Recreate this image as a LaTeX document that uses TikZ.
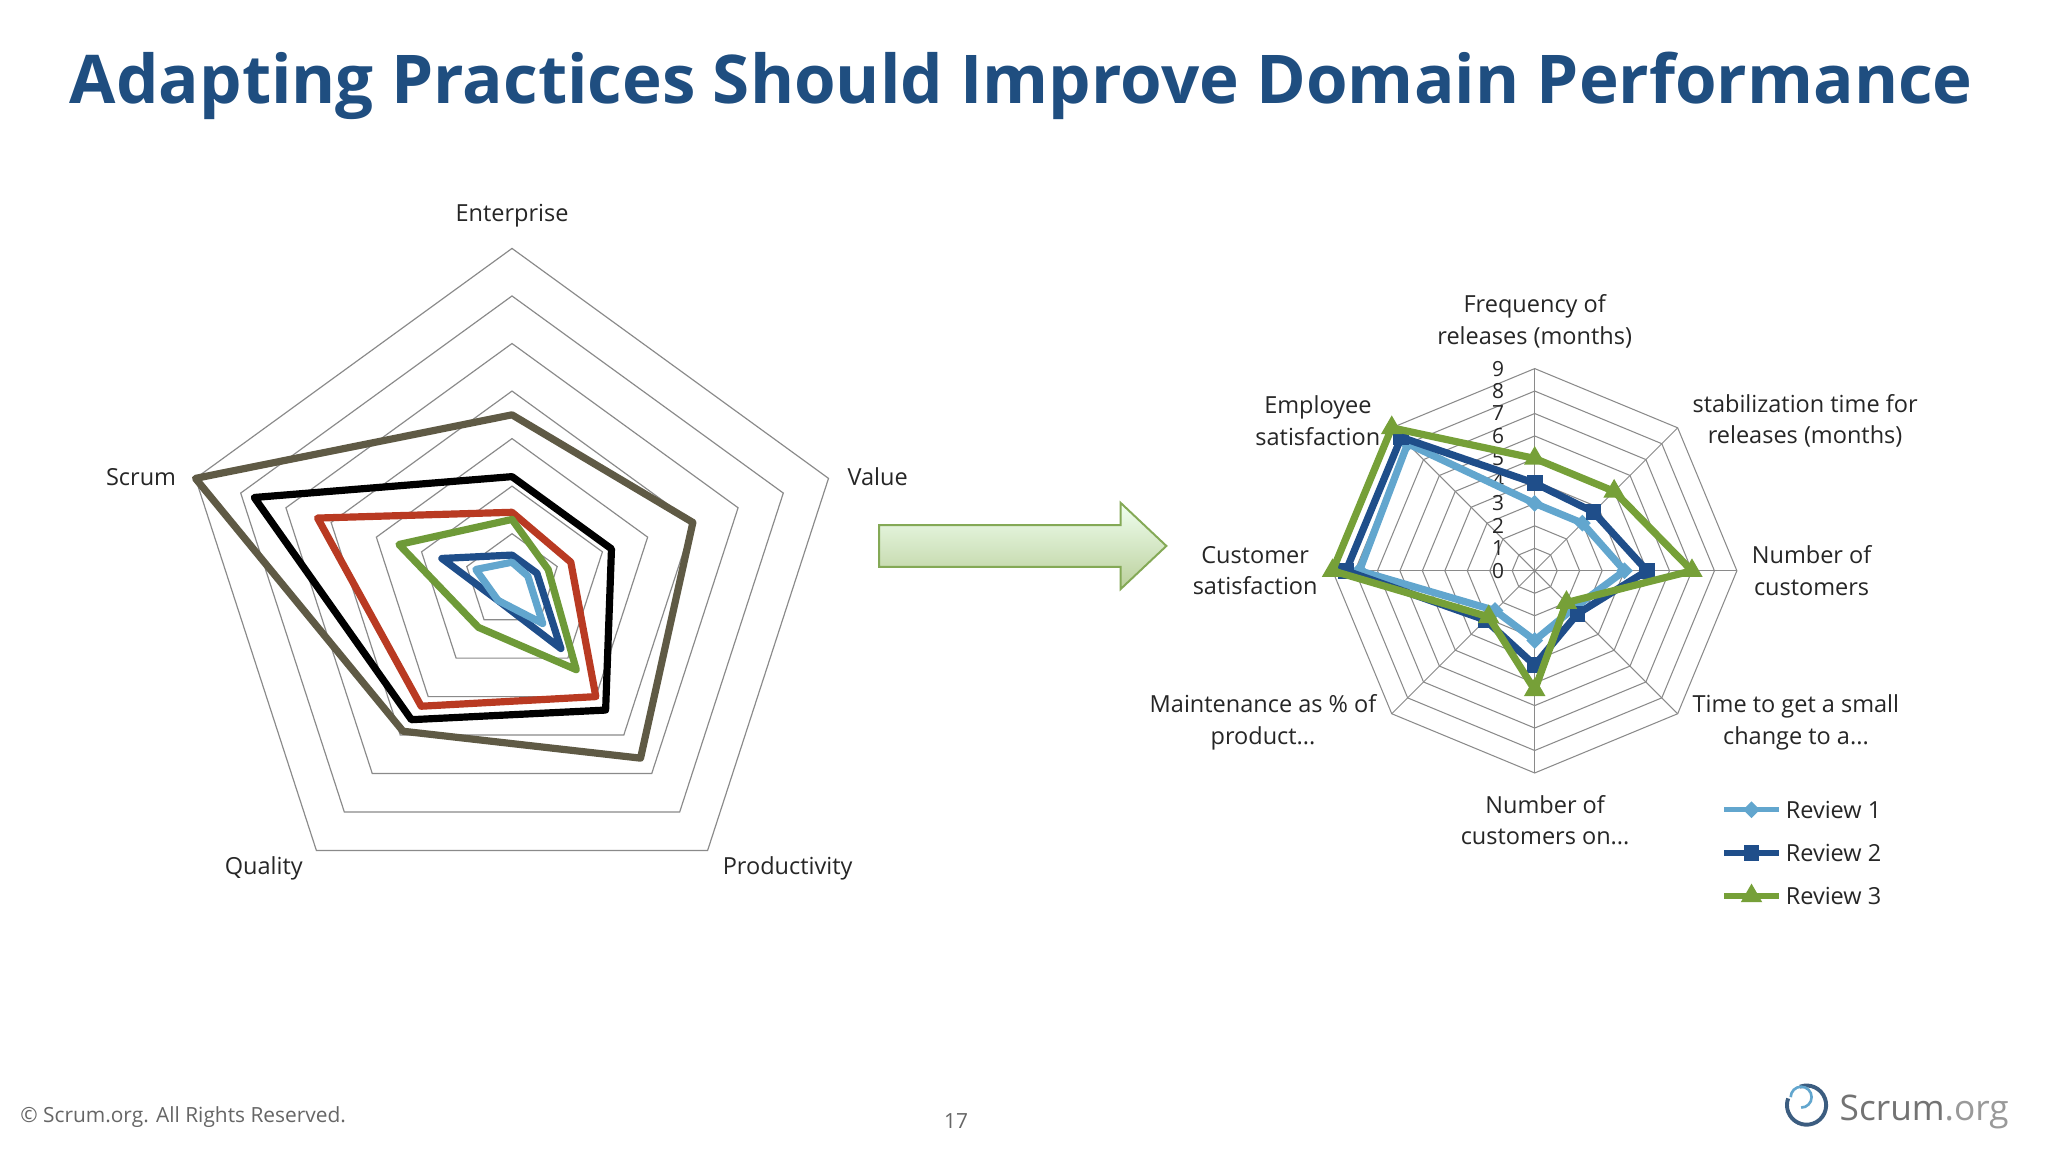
\documentclass[tikz,border=0pt]{standalone}
\usepackage{fontspec}
\setmainfont{Open Sans}
\usetikzlibrary{shapes.geometric}
\definecolor{ttl}{HTML}{1F4E80}
\definecolor{olv}{HTML}{5F5A45}
\definecolor{rd}{HTML}{B93A22}
\definecolor{gr}{HTML}{6E9A38}
\definecolor{db}{HTML}{1F4E8A}
\definecolor{lb}{HTML}{62A6CE}
\definecolor{rgr}{HTML}{76A038}
\definecolor{gridc}{HTML}{8A8A8A}
\newcommand\LP[2]{({392+36.4*#2*cos(90-72*#1)},{445-36.4*#2*sin(90-72*#1)})}
\newcommand\RP[2]{({1175+17.2*#2*cos(90-45*#1)},{437-17.2*#2*sin(90-45*#1)})}
\tikzset{
 lbl/.style={font=\fontsize{18}{24}\selectfont,align=center,text=black!85},
 ser/.style={line width=5.5pt,line join=round},
 mkd/.style={diamond,fill=#1,inner sep=0pt,minimum size=13pt},
 mks/.style={rectangle,fill=#1,inner sep=0pt,minimum size=12pt},
 mkt/.style={regular polygon,regular polygon sides=3,fill=#1,inner sep=0pt,minimum size=19pt},
}
\begin{document}
\begin{tikzpicture}[x=1pt,y=-1pt]
\useasboundingbox[fill=white] (0,0) rectangle (1568,882);
\node[font=\fontsize{51.5}{56}\selectfont\bfseries,text=ttl] (title) at (782,66) {Adapting Practices Should Improve Domain Performance};
% left grid
\foreach \k in {1,...,7}
 \draw[gridc,line width=0.9pt] \LP{0}{\k} -- \LP{1}{\k} -- \LP{2}{\k} -- \LP{3}{\k} -- \LP{4}{\k} -- cycle;
\draw[ser,olv] \LP{0}{3.5} -- \LP{1}{4} -- \LP{2}{4.6} -- \LP{3}{3.9} -- \LP{4}{7} -- cycle;
\draw[ser,black] \LP{0}{2.2} -- \LP{1}{2.2} -- \LP{2}{3.35} -- \LP{3}{3.6} -- \LP{4}{5.7} -- cycle;
\draw[ser,rd] \LP{0}{1.45} -- \LP{1}{1.3} -- \LP{2}{3.0} -- \LP{3}{3.25} -- \LP{4}{4.3} -- cycle;
\draw[ser,gr] \LP{0}{1.3} -- \LP{1}{0.8} -- \LP{2}{2.3} -- \LP{3}{1.2} -- \LP{4}{2.5} -- cycle;
\draw[ser,db] \LP{0}{0.55} -- \LP{1}{0.55} -- \LP{2}{1.75} -- \LP{3}{0.5} -- \LP{4}{1.55} -- cycle;
\draw[ser,lb] \LP{0}{0.4} -- \LP{1}{0.35} -- \LP{2}{1.1} -- \LP{3}{0.5} -- \LP{4}{0.8} -- cycle;
\node[lbl] (l0) at (392,165) {Enterprise};
\node[lbl] (l1) at (672,365) {Value};
\node[lbl] (l2) at (603,665) {Productivity};
\node[lbl] (l3) at (202,665) {Quality};
\node[lbl] (l4) at (108,365) {Scrum};
% arrow
\draw[draw=gr!85,line width=1.5pt,top color=green!6!white,bottom color=rgr!50,line join=miter]
 (673,402) -- (858,402) -- (858,385) -- (893,418) -- (858,451) -- (858,434) -- (673,434) -- cycle;
% right grid
\foreach \k in {1,...,9}
 \draw[gridc,line width=0.8pt] \RP{0}{\k} -- \RP{1}{\k} -- \RP{2}{\k} -- \RP{3}{\k} -- \RP{4}{\k} -- \RP{5}{\k} -- \RP{6}{\k} -- \RP{7}{\k} -- cycle;
\foreach \i in {0,...,7} \draw[gridc,line width=0.8pt] \RP{\i}{0} -- \RP{\i}{9};
\foreach \k in {0,...,9} \node[font=\fontsize{16}{16}\selectfont,text=black!85] at (1147,{437-17.2*\k}) {\k};
\draw[ser,lb] \RP{0}{3} -- \RP{1}{3} -- \RP{2}{4} -- \RP{3}{2.4} -- \RP{4}{3.1} -- \RP{5}{2.5} -- \RP{6}{7.8} -- \RP{7}{8} -- cycle;
\foreach \i/\v in {0/3,1/3,2/4,3/2.4,4/3.1,5/2.5,6/7.8,7/8} \node[mkd=lb] at \RP{\i}{\v} {};
\draw[ser,db] \RP{0}{3.9} -- \RP{1}{3.7} -- \RP{2}{5} -- \RP{3}{2.7} -- \RP{4}{4.2} -- \RP{5}{3.1} -- \RP{6}{8.4} -- \RP{7}{8.4} -- cycle;
\foreach \i/\v in {0/3.9,1/3.7,2/5,3/2.7,4/4.2,5/3.1,6/8.4,7/8.4} \node[mks=db] at \RP{\i}{\v} {};
\draw[ser,rgr] \RP{0}{5} -- \RP{1}{5} -- \RP{2}{7} -- \RP{3}{2} -- \RP{4}{5.3} -- \RP{5}{2.9} -- \RP{6}{9} -- \RP{7}{9} -- cycle;
\foreach \i/\v in {0/5,1/5,2/7,3/2,4/5.3,5/2.9,6/9,7/9} \node[mkt=rgr] at \RP{\i}{\v} {};
\node[lbl] (r0) at (1175,246) {Frequency of\\releases (months)};
\node[lbl] (r1) at (1382,322) {stabilization time for\\releases (months)};
\node[lbl] (r2) at (1387,437) {Number of\\customers};
\node[lbl] (r3) at (1375,553) {Time to get a small\\change to a...};
\node[lbl] (r4) at (1183,628) {Number of\\customers on...};
\node[lbl] (r5) at (967,553) {Maintenance as \% of\\product...};
\node[lbl] (r6) at (961,437) {Customer\\satisfaction};
\node[lbl] (r7) at (1009,322) {Employee\\satisfaction};
% legend
\coordinate (a1) at (1320,620); \coordinate (b1) at (1362,620);
\coordinate (a2) at (1320,653); \coordinate (b2) at (1362,653);
\coordinate (a3) at (1320,686); \coordinate (b3) at (1362,686);
\draw[lb,line width=4pt] (a1) -- (b1); \node[mkd=lb] at (1341,620) {};
\draw[db,line width=4pt] (a2) -- (b2); \node[mks=db] at (1341,653) {};
\draw[rgr,line width=4pt] (a3) -- (b3); \node[mkt=rgr] at (1341,686) {};
\node[lbl,anchor=west,inner sep=0pt] (g1) at (1367,620) {Review 1};
\node[lbl,anchor=west,inner sep=0pt] (g2) at (1367,653) {Review 2};
\node[lbl,anchor=west,inner sep=0pt] (g3) at (1367,686) {Review 3};
% footer
\node[anchor=west,font=\fontsize{16}{16}\selectfont,text=black!60] (cp) at (12,855) {© Scrum.org. All Rights Reserved.};
\node[font=\fontsize{16}{16}\selectfont,text=black!60] (pg) at (732,858) {17};
\draw[ttl!70!gray,line width=3pt] (1378,832) arc (110:-200:15pt);
\draw[lb,line width=2pt] (1371,840) arc (180:-90:8pt);
\node[anchor=west,font=\fontsize{27}{27}\selectfont,text=black!55] (logo) at (1405,851) {Scrum\textcolor{black!40}{.org}};
\end{tikzpicture}
\end{document}
